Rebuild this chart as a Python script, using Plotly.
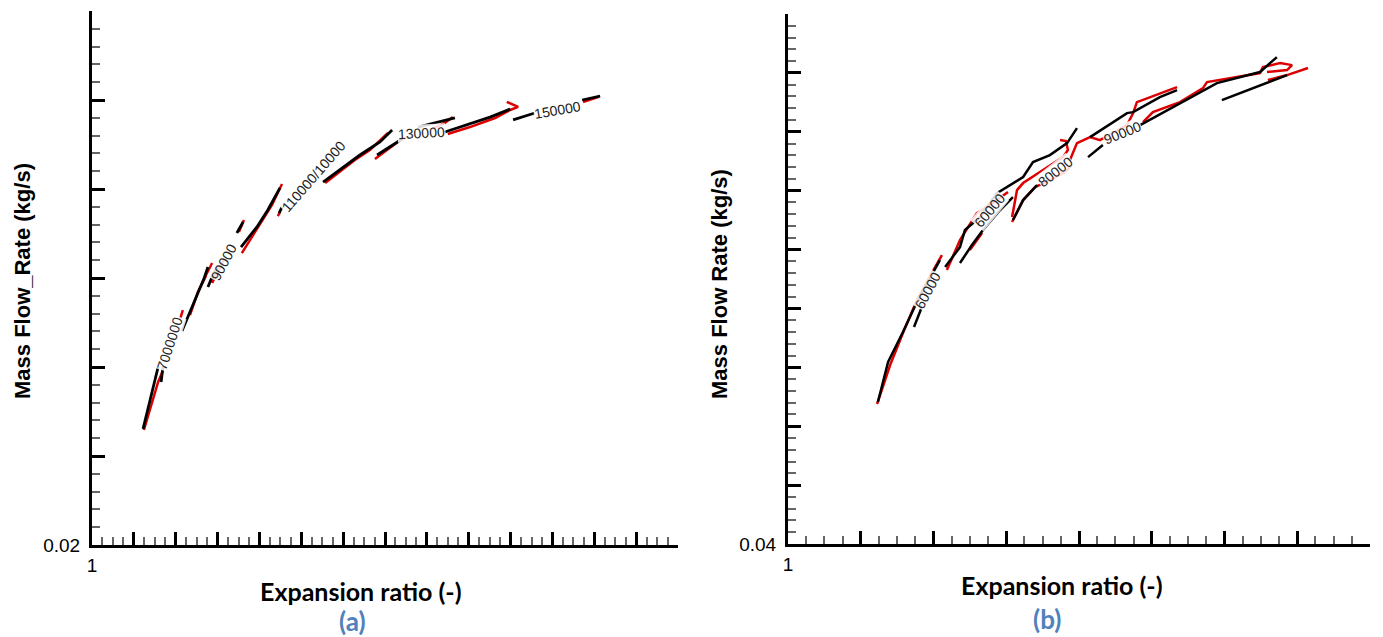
import plotly.graph_objects as go

# ---------------- Panel (a) data ----------------
a_black_x = [1.122, 1.139, 1.151, 1.158, None,
             1.165, 1.170, None,
             1.215, 1.234, 1.253, 1.268, 1.277, None,
             1.277, 1.287, 1.299, None,
             1.346, 1.361, None,
             1.356, 1.377, 1.394, 1.420, 1.449, None,
             1.447, 1.454, None,
             1.552, 1.592, 1.640, 1.688, 1.717, None,
             1.681, 1.712, 1.741, None,
             1.779, 1.819, 1.867, None,
             1.843, 1.903, 1.951, 1.999, None,
             2.006, 2.058, None,
             2.171, 2.214]
a_black_y = [0.02652, 0.02815, 0.02927, 0.03000, None,
             0.02916, 0.03006, None,
             0.03202, 0.03309, 0.03421, 0.03500, 0.03562, None,
             0.03449, 0.03506, 0.03562, None,
             0.03753, 0.03815, None,
             0.03674, 0.03736, 0.03787, 0.03882, 0.04006, None,
             0.03865, 0.03899, None,
             0.04039, 0.04107, 0.04191, 0.04264, 0.04331, None,
             0.04191, 0.04236, 0.04281, None,
             0.04348, 0.04371, 0.04399, None,
             0.04320, 0.04365, 0.04404, 0.04449, None,
             0.04388, 0.04427, None,
             0.04500, 0.04522]

a_red_x = [1.124, 1.143, 1.158, 1.170, None,
           1.210, 1.217, None,
           1.234, 1.253, 1.270, 1.287, None,
           1.287, 1.301, 1.315, None,
           1.351, 1.363, None,
           1.358, 1.377, 1.401, 1.430, 1.454, None,
           1.444, 1.449, None,
           1.557, 1.592, 1.628, 1.664, 1.707, None,
           1.676, 1.712, 1.743, None,
           1.812, 1.843, 1.862, None,
           1.850, 1.903, 1.963, 1.999, 2.018, 2.006, 1.991, None,
           2.173, 2.209]
a_red_y = [0.02646, 0.02803, 0.02916, 0.02983, None,
           0.03264, 0.03320, None,
           0.03292, 0.03421, 0.03500, 0.03584, None,
           0.03472, 0.03534, 0.03601, None,
           0.03758, 0.03826, None,
           0.03640, 0.03713, 0.03798, 0.03910, 0.04028, None,
           0.03848, 0.03871, None,
           0.04034, 0.04096, 0.04163, 0.04219, 0.04315, None,
           0.04169, 0.04230, 0.04287, None,
           0.04337, 0.04371, 0.04404, None,
           0.04309, 0.04348, 0.04399, 0.04444, 0.04461, 0.04472, 0.04489, None,
           0.04489, 0.04517]

a_label_text = ["7000000", "90000", "110000/10000", "130000", "150000"]
a_label_x = [1.186, 1.315, 1.530, 1.786, 2.113]
a_label_y = [0.03135, 0.03590, 0.04073, 0.04315, 0.04444]
a_label_angle = [-72, -62, -49, -3, -10]

# ---------------- Panel (b) data ----------------
b_black_x = [1.309, 1.344, 1.395, 1.443, 1.488, 1.522, None,
             1.433, 1.460, None,
             1.540, 1.591, 1.608, 1.660, 1.718, 1.746, 1.808, 1.842, 1.900, 1.959, 1.993, None,
             1.591, 1.632, 1.670, 1.729, 1.773, None,
             1.773, 1.808, 1.856, None,
             2.031, 2.082, None,
             2.038, 2.165, 2.186, 2.278, 2.337, None,
             2.210, 2.426, 2.474, 2.622, 2.680, None,
             2.491, 2.715]
b_black_y = [0.06411, 0.07090, 0.07599, 0.08109, 0.08516, 0.08822, None,
             0.07684, 0.08024, None,
             0.08703, 0.09042, 0.09331, 0.09552, 0.09959, 0.10044, 0.10231, 0.10486, 0.10604, 0.10808, 0.11063, None,
             0.08771, 0.09076, 0.09331, 0.09671, 0.09891, None,
             0.09501, 0.09840, 0.10095, None,
             0.10570, 0.10774, None,
             0.10910, 0.11317, 0.11334, 0.11589, 0.11708, None,
             0.11114, 0.11708, 0.11827, 0.12014, 0.12268, None,
             0.11538, 0.11963]

b_red_x = [1.306, 1.351, 1.395, 1.443, 1.488, 1.529, None,
           1.546, 1.591, 1.649, 1.704, 1.756, None,
           1.625, 1.667, None,
           1.770, 1.787, 1.808, 1.866, 1.945, 1.962, 1.955, 1.935, None,
           1.969, 1.993, 2.038, 2.072, 2.165, 2.186, 2.199, 2.337, None,
           1.770, 1.808, 1.849, 1.900, 1.952, 1.976, None,
           2.220, 2.254, 2.347, 2.426, 2.440, 2.622, 2.632, 2.691, 2.732, 2.715, 2.646, None,
           2.649, 2.715, 2.787]
b_red_y = [0.06377, 0.07039, 0.07582, 0.08143, 0.08550, 0.08907, None,
           0.08652, 0.09161, 0.09620, 0.09789, 0.09976, None,
           0.08992, 0.09280, None,
           0.09552, 0.10010, 0.10129, 0.10316, 0.10570, 0.10689, 0.10842, 0.10859, None,
           0.10520, 0.10808, 0.10910, 0.10859, 0.11114, 0.11317, 0.11504, 0.11759, None,
           0.09467, 0.09840, 0.10061, 0.10180, 0.10316, 0.10435, None,
           0.11165, 0.11334, 0.11504, 0.11742, 0.11844, 0.11997, 0.12098, 0.12166, 0.12132, 0.12048, 0.12014, None,
           0.11878, 0.11963, 0.12082]

b_label_text = ["60000", "60000", "80000", "90000"]
b_label_x = [1.481, 1.694, 1.918, 2.148]
b_label_y = [0.08312, 0.09671, 0.10316, 0.10978]
b_label_angle = [-62, -50, -38, -22]

# ---------------- Axis ticks ----------------
a_x_ticks = [round(1 + 0.1 * i, 2) for i in range(15)]
a_x_ticktext = ["1"] + [""] * 14
a_y_ticks = [round(0.02 + 0.005 * i, 4) for i in range(7)]
a_y_ticktext = ["0.02"] + [""] * 6

b_x_ticks = [round(1 + 0.25 * i, 3) for i in range(9)]
b_x_ticktext = ["1"] + [""] * 8
b_y_ticks = [round(0.04 + 0.01 * i, 3) for i in range(10)]
b_y_ticktext = ["0.04"] + [""] * 9

BLACK = "#000000"
RED = "#dd0000"

fig = go.Figure()
fig.add_trace(go.Scatter(x=a_red_x, y=a_red_y, mode="lines", line=dict(color=RED, width=2.5),
                         xaxis="x", yaxis="y", connectgaps=False, hoverinfo="skip"))
fig.add_trace(go.Scatter(x=a_black_x, y=a_black_y, mode="lines", line=dict(color=BLACK, width=2.8),
                         xaxis="x", yaxis="y", connectgaps=False, hoverinfo="skip"))
fig.add_trace(go.Scatter(x=b_red_x, y=b_red_y, mode="lines", line=dict(color=RED, width=2.5),
                         xaxis="x2", yaxis="y2", connectgaps=False, hoverinfo="skip"))
fig.add_trace(go.Scatter(x=b_black_x, y=b_black_y, mode="lines", line=dict(color=BLACK, width=2.5),
                         xaxis="x2", yaxis="y2", connectgaps=False, hoverinfo="skip"))

W, H = 1383, 637
tickfont = dict(family="Liberation Sans, Arial", size=19, color="#000")


def axis_common(domain, rng, tickvals, ticktext, minor_dtick, anchor, standoff):
    return dict(domain=domain, range=rng, tickmode="array", tickvals=tickvals, ticktext=ticktext,
                ticks="inside", ticklen=13, tickwidth=3, tickcolor="#000",
                showline=True, linewidth=3, linecolor="#000", mirror=False, automargin=False,
                showgrid=False, zeroline=False, tickfont=tickfont, anchor=anchor,
                ticklabelstandoff=standoff,
                minor=dict(ticks="inside", ticklen=8, tickwidth=1.5, tickcolor="#666",
                           tick0=rng[0], dtick=minor_dtick, showgrid=False))


layout = dict(
    width=W, height=H, margin=dict(l=0, r=0, t=0, b=0, autoexpand=False),
    paper_bgcolor="white", plot_bgcolor="white", showlegend=False,
    xaxis=axis_common([92 / W, 678 / W], [1, 2.4], a_x_ticks, a_x_ticktext, 0.025, "y", 1),
    yaxis=axis_common([1 - 545 / H, 1 - 11 / H], [0.02, 0.05], a_y_ticks, a_y_ticktext, 0.001, "x", 5),
    xaxis2=axis_common([788 / W, 1370 / W], [1, 3], b_x_ticks, b_x_ticktext, 0.0625, "y2", 1),
    yaxis2=axis_common([1 - 544 / H, 1 - 14 / H], [0.04, 0.13], b_y_ticks, b_y_ticktext, 0.002, "x2", 5),
)
fig.update_layout(**layout)

annotations = []
for t, x, y, a in zip(a_label_text, a_label_x, a_label_y, a_label_angle):
    annotations.append(dict(text=t, x=x, y=y, xref="x", yref="y", showarrow=False, textangle=a,
                            font=dict(family="Liberation Sans, Arial", size=14, color="#222"),
                            bgcolor="rgba(255,255,255,0.85)", borderpad=0))
for t, x, y, a in zip(b_label_text, b_label_x, b_label_y, b_label_angle):
    annotations.append(dict(text=t, x=x, y=y, xref="x2", yref="y2", showarrow=False, textangle=a,
                            font=dict(family="Liberation Sans, Arial", size=14, color="#222"),
                            bgcolor="rgba(255,255,255,0.85)", borderpad=0))

title_font_y = dict(family="Liberation Sans, Arial", size=22, color="#000")
title_font_x = dict(family="Lato, Open Sans", size=25, color="#000")
cap_font = dict(family="Lato, Open Sans", size=26, color="#4F81BD")


def paper(px, py):
    return px / W, 1 - py / H


for text, (px, py), ang, f in [
    ("<b>Mass Flow_Rate (kg/s)</b>", (22, 281), -90, title_font_y),
    ("<b>Mass Flow Rate (kg/s)</b>", (719, 284), -90, title_font_y),
    ("<b>Expansion ratio (-)</b>", (361, 591), 0, title_font_x),
    ("<b>Expansion ratio (-)</b>", (1062, 585), 0, title_font_x),
    ("<b>(a)</b>", (352, 621), 0, cap_font),
    ("<b>(b)</b>", (1047, 619), 0, cap_font),
]:
    x, y = paper(px, py)
    annotations.append(dict(text=text, x=x, y=y, xref="paper", yref="paper", showarrow=False,
                            textangle=ang, font=f, xanchor="center", yanchor="middle"))

fig.update_layout(annotations=annotations)
fig.write_html("out.html", config={"displayModeBar": False},
               post_script="document.body.style.margin='0';document.body.style.overflow='hidden';")
